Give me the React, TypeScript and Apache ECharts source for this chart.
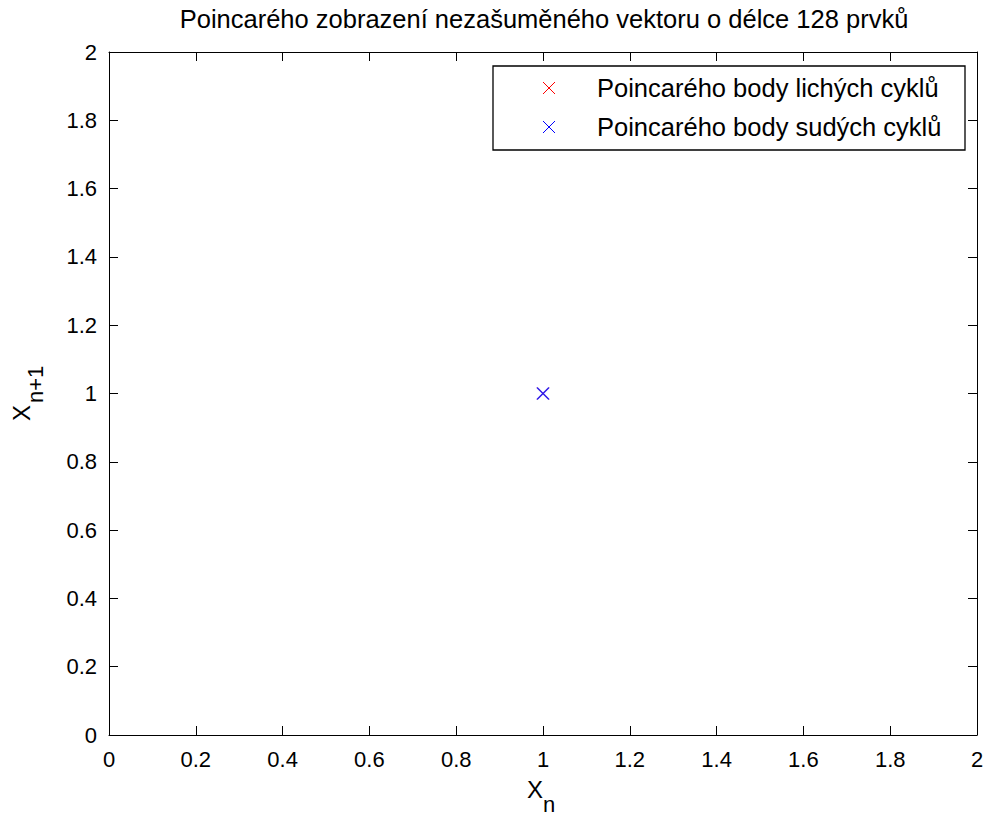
import React, { useEffect, useRef } from "react";
import * as echarts from "echarts";

const titleText = "Poincarého zobrazení nezašuměného vektoru o délce 128 prvků";
const seriesNames = ["Poincarého body lichých cyklů", "Poincarého body sudých cyklů"];
const seriesColors = ["#ff0000", "#0000ff"];
const oddPoints: [number, number][] = [[1, 1]];
const evenPoints: [number, number][] = [[1, 1]];
const axisMin = 0;
const axisMax = 2;
const axisInterval = 0.2;

const CROSS = "path://M0,0L10,10M10,0L0,10";
const FONT = "'Liberation Sans', Arial, Helvetica, sans-serif";

export default function App() {
  const ref = useRef<HTMLDivElement>(null);
  useEffect(() => {
    if (!ref.current) return;
    const chart = echarts.init(ref.current, null, { renderer: "svg" });
    const gridL = 109, gridT = 52, gridR = 977, gridB = 735;
    const axisCommon = {
      type: "value" as const,
      min: axisMin,
      max: axisMax,
      interval: axisInterval,
      splitLine: { show: false },
      axisLine: { show: true, onZero: false, lineStyle: { color: "#000", width: 1 } },
      axisTick: { show: true, inside: true, length: 9, lineStyle: { color: "#000" } },
    };
    const labelStyle = { color: "#000", fontFamily: FONT, fontSize: 22 };
    const crossLines = (cx: number, cy: number, color: string) => [
      { type: "line", z: 101, shape: { x1: cx - 6, y1: cy - 6, x2: cx + 6, y2: cy + 6 }, style: { stroke: color, lineWidth: 1 } },
      { type: "line", z: 101, shape: { x1: cx - 6, y1: cy + 6, x2: cx + 6, y2: cy - 6 }, style: { stroke: color, lineWidth: 1 } },
    ];
    chart.setOption({
      animation: false,
      backgroundColor: "#fff",
      title: {
        text: titleText,
        left: 539,
        top: 1,
        textAlign: "center",
        textStyle: { color: "#000", fontFamily: FONT, fontSize: 25.5, fontWeight: "normal" },
      },
      grid: { left: gridL, top: gridT, right: 988 - gridR, bottom: 816 - gridB, containLabel: false },
      xAxis: [
        { ...axisCommon, position: "bottom", axisLabel: { ...labelStyle, margin: 13 } },
        { ...axisCommon, position: "top", axisLabel: { show: false } },
      ],
      yAxis: [
        { ...axisCommon, position: "left", axisLabel: { ...labelStyle, margin: 12 } },
        { ...axisCommon, position: "right", axisLabel: { show: false } },
      ],
      series: [
        {
          name: seriesNames[0],
          type: "scatter",
          data: oddPoints,
          symbol: CROSS,
          symbolSize: 12,
          z: 2,
          itemStyle: { color: "transparent", borderColor: seriesColors[0], borderWidth: 0.8 },
        },
        {
          name: seriesNames[1],
          type: "scatter",
          data: evenPoints,
          symbol: CROSS,
          symbolSize: 12,
          z: 3,
          itemStyle: { color: "transparent", borderColor: seriesColors[1], borderWidth: 1.6 },
        },
      ],
      graphic: [
        {
          type: "rect",
          shape: { x: 493, y: 66, width: 472, height: 84 },
          style: { fill: "#fff", stroke: "#000", lineWidth: 1.3 },
          z: 100,
        },
        ...crossLines(549, 88, seriesColors[0]),
        ...crossLines(549, 127, seriesColors[1]),
        {
          type: "text",
          x: 597,
          y: 88,
          z: 101,
          style: { text: seriesNames[0], fill: "#000", font: `25.5px ${FONT}`, verticalAlign: "middle", align: "left" },
        },
        {
          type: "text",
          x: 597,
          y: 127,
          z: 101,
          style: { text: seriesNames[1], fill: "#000", font: `25.5px ${FONT}`, verticalAlign: "middle", align: "left" },
        },
        {
          type: "text",
          x: 535,
          y: 789,
          style: { text: "X", fill: "#000", font: `24px ${FONT}`, verticalAlign: "middle", align: "center" },
        },
        {
          type: "text",
          x: 543,
          y: 804,
          style: { text: "n", fill: "#000", font: `22px ${FONT}`, verticalAlign: "middle", align: "left" },
        },
        {
          type: "text",
          x: 21,
          y: 413,
          rotation: Math.PI / 2,
          style: { text: "X", fill: "#000", font: `24px ${FONT}`, verticalAlign: "middle", align: "center" },
        },
        {
          type: "text",
          x: 35,
          y: 403,
          rotation: Math.PI / 2,
          style: { text: "n+1", fill: "#000", font: `22px ${FONT}`, verticalAlign: "middle", align: "left" },
        },
      ],
    });
    return () => chart.dispose();
  }, []);
  return <div ref={ref} style={{ position: "absolute", left: 0, top: 0, width: 988, height: 816 }} />;
}
